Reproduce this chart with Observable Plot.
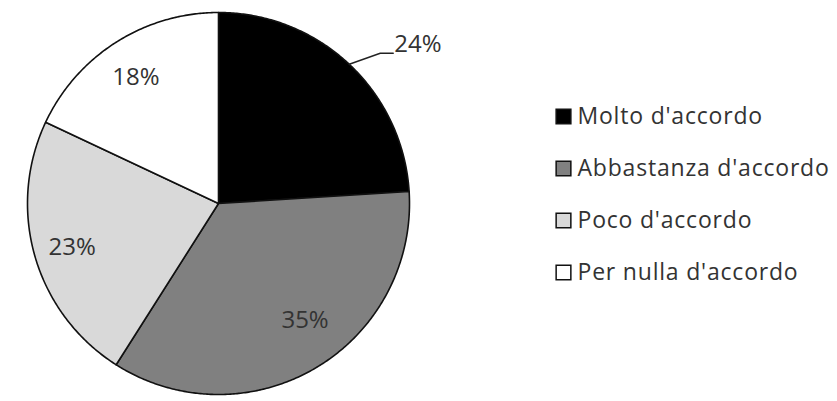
<!DOCTYPE html>
<html>
<head>
<meta charset="utf-8">
<script src="https://cdn.jsdelivr.net/npm/d3@7"></script>
<script src="https://cdn.jsdelivr.net/npm/@observablehq/plot@0.6"></script>
<style>
  html, body { margin: 0; padding: 0; background: #fff; }
  #chart svg { display: block; }
  .legend-text text { letter-spacing: 0.8px; }
</style>
</head>
<body>
<div id="chart"></div>
<script>
// ---- data ----
const categories = ["Molto d'accordo", "Abbastanza d'accordo", "Poco d'accordo", "Per nulla d'accordo"];
const values = [24, 35, 23, 18];
const labels = ["24%", "35%", "23%", "18%"];
const colors = ["#000000", "#808080", "#d9d9d9", "#ffffff"];

// ---- layout ----
const W = 837, H = 401;
const mL = 27, mR = 428, mT = 12, mB = 7;      // pie frame: circle radius 191 px
const R = (W - mL - mR) / 2;                   // px per data unit
const labelLayout = [null, {r: 0.76, da: -6}, {r: 0.80, da: -0.6}, {r: 0.79, da: -0.8}];

const pie = d3.pie().sort(null).value(d => d)(values);
const deg = Math.PI / 180;

// slice polygons (unit circle, angle clockwise from 12 o'clock, y down)
const slicePts = [];
pie.forEach((p, i) => {
  slicePts.push({cat: categories[i], x: 0, y: 0});
  const n = Math.max(2, Math.ceil((p.endAngle - p.startAngle) / (0.5 * deg)));
  for (let k = 0; k <= n; k++) {
    const a = p.startAngle + (p.endAngle - p.startAngle) * k / n;
    slicePts.push({cat: categories[i], x: Math.sin(a), y: -Math.cos(a)});
  }
});

// inside labels
const insideLabels = [];
pie.forEach((p, i) => {
  const L = labelLayout[i];
  if (!L) return;
  const a = (p.startAngle + p.endAngle) / 2 + L.da * deg;
  insideLabels.push({text: labels[i], x: L.r * Math.sin(a), y: -L.r * Math.cos(a)});
});

// outside label with leader line for first slice
const p0 = pie[0];
const a0 = (p0.startAngle + p0.endAngle) / 2;
const ex = Math.sin(a0), ey = -Math.cos(a0);
const leader = [
  {x: ex, y: ey},
  {x: ex + 31 / R, y: ey - 11 / R},
  {x: ex + 44 / R, y: ey - 11 / R}
];
const outsideLabel = [{text: labels[0], x: ex + 45 / R, y: ey - 20 / R}];

const marks = [
  Plot.line(slicePts, {x: "x", y: "y", z: "cat", fill: "cat", stroke: "#111", strokeWidth: 1.6, curve: "linear-closed"}),
  Plot.line(leader, {x: "x", y: "y", stroke: "#222", strokeWidth: 1.4}),
  Plot.text(insideLabels, {x: "x", y: "y", text: "text", fontSize: 24, fill: "#333"}),
  Plot.text(outsideLabel, {x: "x", y: "y", text: "text", fontSize: 24, fill: "#333", textAnchor: "start"})
];

// legend
categories.forEach((c, i) => {
  const dy = 116 - mT + i * 52;
  marks.push(Plot.dot([c], {frameAnchor: "top-left", dx: 563 - mL, dy, symbol: "square", r: 8.3, fill: d => d, stroke: "#111", strokeWidth: 1.5}));
  marks.push(Plot.text([c], {frameAnchor: "top-left", dx: 577 - mL, dy, text: d => d, textAnchor: "start", lineAnchor: "middle", fontSize: 23, fill: "#333", className: "legend-text"}));
});

const chart = Plot.plot({
  width: W,
  height: H,
  marginLeft: mL, marginRight: mR, marginTop: mT, marginBottom: mB,
  style: {fontFamily: "'Open Sans', sans-serif", background: "#fff"},
  x: {domain: [-1, 1], axis: null},
  y: {domain: [-1, 1], reverse: true, axis: null},
  color: {type: "ordinal", domain: categories, range: colors},
  marks
});
document.getElementById("chart").appendChild(chart);
</script>
</body>
</html>
